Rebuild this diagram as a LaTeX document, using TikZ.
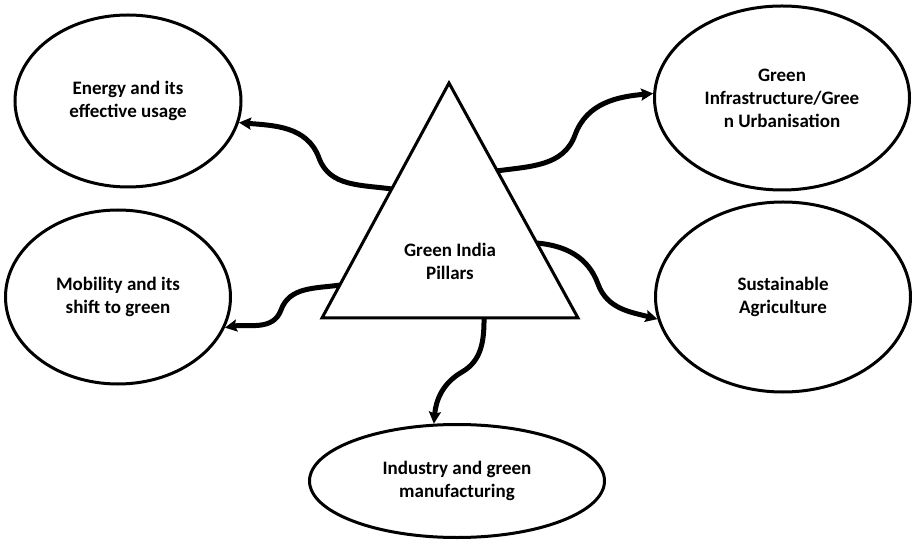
\documentclass[tikz,border=0pt]{standalone}
\usepackage{fontspec}
\setmainfont{Carlito}
\usetikzlibrary{shapes.geometric,arrows.meta,calc}
\begin{document}
\begin{tikzpicture}[x=1pt,y=1pt,
  pillar/.style={ellipse, draw, line width=3pt, inner sep=0pt, align=center,
    font=\bfseries\fontsize{19}{23}\selectfont},
  corelabel/.style={align=center, font=\bfseries\fontsize{19}{23}\selectfont},
  link/.style={line width=5pt, -{Stealth[length=12pt,width=12pt,inset=2pt]}},
  pyramid/.style={line width=3pt, line join=miter}]
\useasboundingbox (0,0) rectangle (912,541);
\fill[white] (0,0) rectangle (912,541);

% the five pillars
\node[pillar, minimum width=226pt, minimum height=172pt] (energy) at (128,440)
  {Energy and its\\effective usage};
\node[pillar, minimum width=255pt, minimum height=184pt] (infra) at (782,443)
  {Green\\Infrastructure/Gree\\n Urbanisation};
\node[pillar, minimum width=225pt, minimum height=174pt] (mobility) at (118,244)
  {Mobility and its\\shift to green};
\node[pillar, minimum width=255pt, minimum height=190pt] (agri) at (783,244)
  {Sustainable\\Agriculture};
\node[pillar, minimum width=295pt, minimum height=113pt] (industry) at (457,60)
  {Industry and green\\manufacturing};

% central triangle
\coordinate (apex) at (449,458);
\coordinate (bl) at (322,223);
\coordinate (br) at (578,223);
\draw[pyramid] (apex) -- (bl) -- (br) -- cycle;
\node[corelabel] (core) at (450,280) {Green India\\Pillars};

% connector start points on the triangle
\coordinate (s1) at ($(apex)!0.451!(bl)$);
\coordinate (s2) at ($(apex)!0.374!(br)$);
\coordinate (s3) at ($(apex)!0.86!(bl)$);
\coordinate (s4) at ($(apex)!0.681!(br)$);
\coordinate (s5) at ($(bl)!0.633!(br)$);

% bends of the wavy connectors
\coordinate (m1) at (319,383);
\coordinate (m2) at (575,406);
\coordinate (m3) at (281,231);
\coordinate (m4) at (598,257);
\coordinate (m5) at (462,169);

\draw[link] (s1) to[out=172,in=-70] (m1) to[out=110,in=-5] (energy.-11);
\draw[link] (s2) to[out=8,in=-110] (m2) to[out=70,in=185] (infra.178);
\draw[link] (s3) to[out=188,in=70] (m3) to[out=250,in=10] (mobility.-16);
\draw[link] (s4) to[out=-5,in=110] (m4) to[out=-70,in=165] (agri.190);
\draw[link] (s5) to[out=-90,in=30] (m5) to[out=210,in=85] (industry.112);
\end{tikzpicture}
\end{document}
